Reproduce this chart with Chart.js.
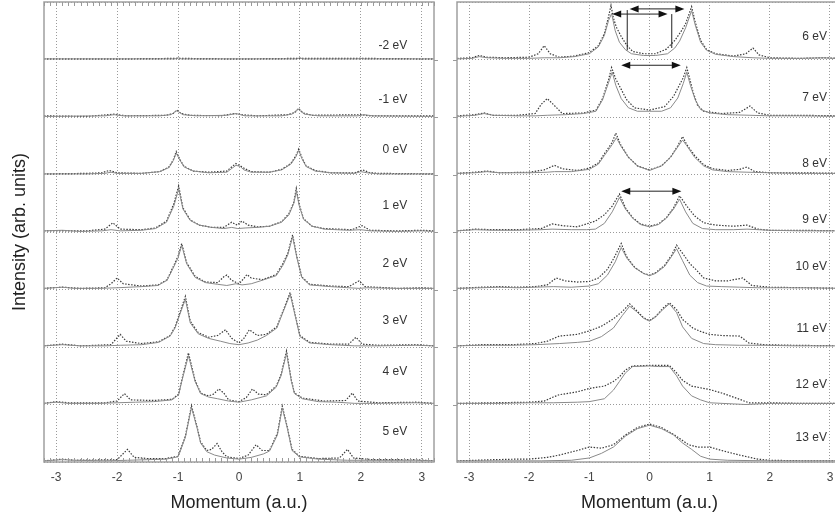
<!DOCTYPE html>
<html lang="en">
<head>
  <meta charset="UTF-8">
  <title>Momentum distributions</title>
  <script src="https://cdn.jsdelivr.net/npm/chart.js"></script>
  <style>
    body { margin: 0; width: 835px; height: 521px; overflow: hidden; background: #fff; position: relative; }
    .panel { position: absolute; top: 0; }
    #low { left: 0; }
    #high { left: 420px; }
  </style>
</head>
<body>
  <div class="panel" id="low"><canvas id="lowChart" width="440" height="521"></canvas></div>
  <div class="panel" id="high"><canvas id="highChart" width="430" height="521"></canvas></div>

  <script>
    // momentum (a.u.) vs intensity, one strip per binding energy
    // each curve: [momentum, intensity as fraction of strip height]

    // -2 eV
    const lineN2 = [[-3.2,0.01],[-1.05,0.01],[-1.0,0.03],[-0.95,0.01],[0.95,0.01],[1.0,0.03],[1.05,0.01],[1.95,0.01],[2.0,0.02],[2.05,0.01],[3.2,0.01]];
    const dotsN2 = [[-3.2,0.01],[-2.0,0.01],[-1.0,0.02],[0,0.01],[1.0,0.02],[2.0,0.02],[3.2,0.01]];
    // -1 eV
    const lineN1 = [[-3.2,0.01],[-2.2,0.02],[-2.05,0.04],[-1.9,0.02],[-1.3,0.02],[-1.12,0.04],[-1.02,0.11],[-0.92,0.04],[-0.7,0.02],[-0.2,0.03],[-0.05,0.06],[0.1,0.02],[0.7,0.02],[0.87,0.05],[0.97,0.14],[1.07,0.05],[1.3,0.02],[1.95,0.02],[2.05,0.04],[2.2,0.02],[3.2,0.01]];
    const dotsN1 = [[-3.2,0.02],[-2.5,0.01],[-2.05,0.05],[-1.85,0.02],[-1.2,0.03],[-1.08,0.06],[-1.02,0.12],[-0.95,0.06],[-0.8,0.03],[-0.3,0.02],[-0.08,0.06],[0.05,0.04],[0.3,0.02],[0.8,0.04],[0.92,0.08],[0.98,0.15],[1.05,0.07],[1.2,0.03],[2.0,0.04],[2.15,0.02],[3.2,0.02]];
    // 0 eV
    const line0 = [[-3.2,0.01],[-2.5,0.01],[-2.2,0.02],[-2.1,0.04],[-2.0,0.02],[-1.6,0.02],[-1.3,0.05],[-1.15,0.12],[-1.08,0.24],[-1.03,0.37],[-0.97,0.25],[-0.9,0.13],[-0.75,0.06],[-0.5,0.03],[-0.2,0.04],[-0.1,0.12],[-0.05,0.16],[0.02,0.14],[0.08,0.08],[0.2,0.04],[0.5,0.04],[0.7,0.08],[0.85,0.18],[0.93,0.3],[0.98,0.42],[1.03,0.28],[1.1,0.14],[1.25,0.06],[1.5,0.03],[1.9,0.02],[2.0,0.05],[2.1,0.03],[2.3,0.01],[3.2,0.01]];
    const dots0 = [[-3.2,0.01],[-2.5,0.02],[-2.25,0.03],[-2.13,0.07],[-2.0,0.03],[-1.6,0.02],[-1.3,0.05],[-1.15,0.13],[-1.08,0.25],[-1.03,0.4],[-0.97,0.26],[-0.9,0.14],[-0.75,0.06],[-0.5,0.04],[-0.2,0.06],[-0.1,0.15],[-0.05,0.19],[0.02,0.15],[0.1,0.1],[0.2,0.05],[0.5,0.04],[0.7,0.09],[0.85,0.19],[0.93,0.32],[0.98,0.44],[1.03,0.3],[1.1,0.15],[1.25,0.07],[1.5,0.03],[1.9,0.03],[2.03,0.08],[2.15,0.03],[2.3,0.02],[3.2,0.01]];
    // 1 eV
    const line1 = [[-3.2,0.02],[-2.9,0.03],[-2.6,0.01],[-2.25,0.02],[-2.1,0.04],[-1.95,0.02],[-1.6,0.03],[-1.37,0.06],[-1.19,0.17],[-1.07,0.45],[-0.99,0.75],[-0.92,0.4],[-0.8,0.2],[-0.65,0.12],[-0.45,0.08],[-0.25,0.06],[-0.12,0.08],[-0.02,0.06],[0.1,0.07],[0.3,0.08],[0.5,0.1],[0.7,0.17],[0.82,0.3],[0.9,0.5],[0.94,0.71],[0.99,0.45],[1.06,0.22],[1.2,0.1],[1.4,0.05],[1.8,0.03],[2.0,0.04],[2.15,0.02],[2.6,0.01],[3.0,0.02],[3.2,0.01]];
    const dots1 = [[-3.2,0.02],[-2.9,0.02],[-2.5,0.02],[-2.2,0.05],[-2.07,0.16],[-1.95,0.05],[-1.6,0.04],[-1.37,0.07],[-1.19,0.19],[-1.07,0.49],[-0.99,0.8],[-0.92,0.42],[-0.8,0.21],[-0.65,0.12],[-0.45,0.08],[-0.25,0.08],[-0.12,0.17],[-0.03,0.12],[0.05,0.19],[0.15,0.12],[0.3,0.09],[0.5,0.1],[0.7,0.18],[0.82,0.32],[0.9,0.52],[0.94,0.76],[0.99,0.47],[1.06,0.23],[1.2,0.1],[1.4,0.06],[1.85,0.04],[2.02,0.11],[2.15,0.03],[2.6,0.02],[3.0,0.03],[3.2,0.02]];
    // 2 eV
    const line2 = [[-3.2,0.02],[-2.9,0.04],[-2.7,0.02],[-2.3,0.02],[-2.0,0.03],[-1.6,0.05],[-1.33,0.07],[-1.18,0.16],[-1.1,0.33],[-1.0,0.55],[-0.94,0.77],[-0.86,0.45],[-0.72,0.21],[-0.55,0.12],[-0.35,0.09],[-0.2,0.07],[-0.05,0.1],[0.05,0.08],[0.2,0.1],[0.38,0.16],[0.61,0.24],[0.72,0.42],[0.8,0.6],[0.88,0.92],[0.95,0.55],[1.03,0.21],[1.16,0.08],[1.5,0.05],[1.8,0.03],[1.97,0.02],[2.1,0.03],[2.6,0.02],[3.0,0.02],[3.2,0.02]];
    const dots2 = [[-3.2,0.02],[-2.9,0.04],[-2.6,0.02],[-2.2,0.03],[-2.1,0.1],[-2.0,0.2],[-1.9,0.1],[-1.6,0.06],[-1.33,0.08],[-1.18,0.17],[-1.1,0.35],[-1.0,0.58],[-0.94,0.8],[-0.86,0.47],[-0.72,0.23],[-0.55,0.13],[-0.35,0.12],[-0.25,0.22],[-0.2,0.25],[-0.12,0.16],[0,0.1],[0.07,0.18],[0.13,0.26],[0.2,0.2],[0.38,0.17],[0.61,0.26],[0.72,0.45],[0.8,0.63],[0.88,0.95],[0.95,0.57],[1.03,0.22],[1.16,0.09],[1.5,0.06],[1.8,0.05],[1.97,0.15],[2.07,0.05],[2.6,0.02],[3.0,0.03],[3.2,0.02]];
    // 3 eV
    const line3 = [[-3.2,0.02],[-2.9,0.04],[-2.6,0.02],[-2.2,0.02],[-1.95,0.03],[-1.6,0.04],[-1.32,0.08],[-1.13,0.19],[-1.05,0.33],[-0.97,0.57],[-0.88,0.83],[-0.8,0.42],[-0.67,0.23],[-0.5,0.15],[-0.3,0.1],[-0.15,0.06],[0,0.04],[0.15,0.07],[0.3,0.12],[0.45,0.2],[0.62,0.33],[0.72,0.6],[0.84,0.92],[0.92,0.55],[1.0,0.18],[1.16,0.07],[1.5,0.04],[1.9,0.02],[2.3,0.02],[2.9,0.03],[3.2,0.02]];
    const dots3 = [[-3.2,0.02],[-2.9,0.05],[-2.6,0.02],[-2.1,0.04],[-1.95,0.22],[-1.85,0.1],[-1.6,0.06],[-1.32,0.09],[-1.13,0.2],[-1.05,0.35],[-0.97,0.6],[-0.88,0.88],[-0.8,0.45],[-0.67,0.25],[-0.5,0.17],[-0.35,0.2],[-0.22,0.3],[-0.12,0.15],[0,0.07],[0.08,0.15],[0.17,0.3],[0.3,0.2],[0.45,0.22],[0.62,0.35],[0.72,0.62],[0.84,0.95],[0.92,0.57],[1.0,0.2],[1.16,0.08],[1.5,0.05],[1.8,0.05],[1.92,0.17],[2.02,0.05],[2.3,0.03],[2.9,0.04],[3.2,0.02]];
    // 4 eV
    const line4 = [[-3.2,0.02],[-3.0,0.04],[-2.8,0.02],[-2.3,0.02],[-2.0,0.03],[-1.7,0.04],[-1.4,0.05],[-1.1,0.08],[-0.99,0.17],[-0.94,0.4],[-0.83,0.85],[-0.72,0.4],[-0.63,0.19],[-0.5,0.13],[-0.35,0.1],[-0.17,0.06],[0,0.04],[0.2,0.08],[0.45,0.15],[0.61,0.3],[0.69,0.5],[0.78,0.89],[0.86,0.4],[0.91,0.19],[1.04,0.1],[1.3,0.05],[1.6,0.04],[1.9,0.02],[2.2,0.02],[2.9,0.03],[3.2,0.02]];
    const dots4 = [[-3.2,0.02],[-3.0,0.05],[-2.8,0.03],[-2.2,0.03],[-2.0,0.06],[-1.88,0.19],[-1.78,0.08],[-1.4,0.07],[-1.1,0.09],[-0.99,0.18],[-0.94,0.42],[-0.83,0.9],[-0.72,0.42],[-0.63,0.2],[-0.5,0.15],[-0.42,0.18],[-0.33,0.27],[-0.25,0.2],[-0.17,0.08],[0,0.05],[0.12,0.12],[0.22,0.27],[0.32,0.18],[0.45,0.17],[0.61,0.32],[0.69,0.52],[0.78,0.93],[0.86,0.42],[0.91,0.2],[1.04,0.11],[1.4,0.06],[1.75,0.07],[1.86,0.2],[1.95,0.06],[2.3,0.03],[2.9,0.04],[3.2,0.02]];
    // 5 eV
    const line5 = [[-3.2,0.02],[-2.9,0.04],[-2.7,0.03],[-2.2,0.02],[-1.83,0.03],[-1.5,0.04],[-1.2,0.05],[-1.0,0.09],[-0.88,0.43],[-0.78,0.95],[-0.69,0.6],[-0.63,0.33],[-0.53,0.18],[-0.4,0.12],[-0.2,0.07],[0,0.05],[0.2,0.08],[0.4,0.14],[0.5,0.19],[0.63,0.47],[0.71,0.94],[0.79,0.6],[0.87,0.2],[0.99,0.09],[1.3,0.05],[1.78,0.03],[2.2,0.03],[2.9,0.03],[3.2,0.02]];
    const dots5 = [[-3.2,0.02],[-2.9,0.05],[-2.7,0.03],[-2.0,0.04],[-1.83,0.22],[-1.72,0.08],[-1.5,0.06],[-1.2,0.06],[-1.0,0.1],[-0.88,0.45],[-0.78,0.98],[-0.69,0.62],[-0.63,0.35],[-0.53,0.2],[-0.45,0.22],[-0.36,0.32],[-0.28,0.18],[-0.2,0.09],[0,0.06],[0.15,0.12],[0.28,0.3],[0.38,0.2],[0.5,0.2],[0.63,0.5],[0.71,0.97],[0.79,0.62],[0.87,0.22],[0.99,0.1],[1.3,0.06],[1.65,0.07],[1.78,0.22],[1.88,0.07],[2.2,0.04],[2.9,0.04],[3.2,0.02]];

    // 6 eV
    const line6 = [[-3.2,0.01],[-2.95,0.02],[-2.83,0.05],[-2.7,0.03],[-2.4,0.02],[-2.0,0.02],[-1.75,0.03],[-1.5,0.03],[-1.25,0.05],[-1.0,0.1],[-0.85,0.22],[-0.75,0.42],[-0.68,0.68],[-0.63,0.8],[-0.57,0.5],[-0.5,0.3],[-0.4,0.17],[-0.3,0.1],[-0.1,0.07],[0.1,0.07],[0.3,0.1],[0.42,0.2],[0.5,0.32],[0.6,0.55],[0.7,0.85],[0.76,0.6],[0.85,0.3],[0.95,0.16],[1.1,0.09],[1.4,0.05],[1.72,0.03],[2.0,0.02],[2.5,0.02],[2.9,0.03],[3.2,0.01]];
    const dots6 = [[-3.2,0.02],[-2.95,0.03],[-2.83,0.07],[-2.7,0.04],[-2.4,0.03],[-2.0,0.04],[-1.85,0.1],[-1.75,0.24],[-1.65,0.1],[-1.5,0.04],[-1.25,0.06],[-1.0,0.12],[-0.85,0.24],[-0.75,0.45],[-0.68,0.75],[-0.64,0.94],[-0.6,0.72],[-0.55,0.56],[-0.47,0.4],[-0.38,0.25],[-0.28,0.14],[-0.1,0.1],[0.1,0.1],[0.28,0.18],[0.42,0.33],[0.52,0.48],[0.6,0.62],[0.66,0.8],[0.7,0.92],[0.76,0.65],[0.85,0.33],[0.95,0.17],[1.1,0.1],[1.4,0.06],[1.6,0.1],[1.72,0.2],[1.82,0.08],[2.0,0.03],[2.5,0.02],[2.9,0.03],[3.2,0.02]];
    // 7 eV
    const line7 = [[-3.2,0.01],[-2.9,0.03],[-2.75,0.06],[-2.6,0.03],[-2.2,0.02],[-1.9,0.02],[-1.7,0.03],[-1.4,0.04],[-1.1,0.06],[-0.89,0.1],[-0.78,0.3],[-0.68,0.6],[-0.62,0.78],[-0.56,0.55],[-0.47,0.32],[-0.35,0.16],[-0.2,0.1],[0,0.1],[0.2,0.1],[0.35,0.16],[0.47,0.33],[0.56,0.58],[0.62,0.78],[0.68,0.55],[0.76,0.3],[0.85,0.13],[1.0,0.07],[1.3,0.04],[1.67,0.03],[2.0,0.02],[2.5,0.02],[3.2,0.01]];
    const dots7 = [[-3.2,0.02],[-2.9,0.04],[-2.75,0.07],[-2.6,0.03],[-2.2,0.03],[-1.9,0.06],[-1.8,0.22],[-1.7,0.32],[-1.6,0.22],[-1.45,0.06],[-1.1,0.07],[-0.89,0.12],[-0.78,0.32],[-0.68,0.65],[-0.63,0.86],[-0.56,0.66],[-0.47,0.48],[-0.38,0.3],[-0.25,0.16],[0,0.12],[0.25,0.18],[0.4,0.36],[0.48,0.52],[0.56,0.68],[0.62,0.86],[0.68,0.62],[0.72,0.45],[0.8,0.2],[0.9,0.1],[1.2,0.06],[1.5,0.08],[1.67,0.19],[1.8,0.07],[2.0,0.03],[2.5,0.03],[3.2,0.02]];
    // 8 eV
    const line8 = [[-3.2,0.02],[-2.9,0.03],[-2.7,0.05],[-2.5,0.03],[-2.0,0.03],[-1.7,0.04],[-1.58,0.05],[-1.3,0.05],[-1.0,0.09],[-0.85,0.18],[-0.75,0.33],[-0.62,0.52],[-0.55,0.64],[-0.48,0.5],[-0.35,0.3],[-0.2,0.15],[0,0.07],[0.2,0.15],[0.35,0.3],[0.47,0.48],[0.55,0.6],[0.62,0.5],[0.75,0.3],[0.9,0.15],[1.05,0.08],[1.3,0.05],[1.62,0.04],[2.0,0.03],[2.5,0.02],[3.2,0.02]];
    const dots8 = [[-3.2,0.02],[-2.9,0.04],[-2.7,0.06],[-2.5,0.03],[-2.0,0.04],[-1.75,0.08],[-1.58,0.16],[-1.45,0.1],[-1.2,0.07],[-1.0,0.11],[-0.85,0.2],[-0.75,0.36],[-0.62,0.56],[-0.56,0.72],[-0.48,0.52],[-0.35,0.3],[-0.2,0.15],[0,0.08],[0.2,0.15],[0.35,0.3],[0.47,0.5],[0.55,0.66],[0.62,0.52],[0.75,0.33],[0.9,0.17],[1.05,0.1],[1.3,0.07],[1.5,0.09],[1.62,0.13],[1.75,0.05],[2.0,0.03],[2.5,0.03],[3.2,0.02]];
    // 9 eV
    const line9 = [[-3.2,0.02],[-2.9,0.04],[-2.6,0.03],[-2.2,0.03],[-1.8,0.04],[-1.62,0.05],[-1.3,0.04],[-1.05,0.04],[-0.9,0.05],[-0.75,0.15],[-0.62,0.35],[-0.5,0.6],[-0.4,0.4],[-0.28,0.24],[-0.15,0.13],[0,0.09],[0.15,0.13],[0.28,0.24],[0.4,0.4],[0.5,0.57],[0.6,0.35],[0.72,0.15],[0.88,0.06],[1.1,0.04],[1.4,0.04],[1.62,0.05],[2.0,0.03],[2.5,0.02],[3.2,0.02]];
    const dots9 = [[-3.2,0.02],[-2.9,0.05],[-2.6,0.04],[-2.2,0.04],[-1.8,0.06],[-1.62,0.14],[-1.45,0.11],[-1.2,0.09],[-0.9,0.19],[-0.75,0.3],[-0.62,0.45],[-0.5,0.66],[-0.4,0.42],[-0.28,0.25],[-0.15,0.14],[0,0.1],[0.15,0.14],[0.28,0.25],[0.4,0.42],[0.5,0.63],[0.62,0.45],[0.75,0.28],[0.9,0.16],[1.1,0.12],[1.4,0.1],[1.62,0.12],[1.8,0.05],[2.0,0.03],[2.5,0.03],[3.2,0.02]];
    // 10 eV
    const line10 = [[-3.2,0.02],[-2.8,0.03],[-2.5,0.04],[-2.2,0.03],[-1.9,0.04],[-1.6,0.05],[-1.3,0.04],[-1.0,0.06],[-0.85,0.1],[-0.7,0.25],[-0.57,0.48],[-0.47,0.73],[-0.38,0.55],[-0.25,0.38],[-0.1,0.28],[0,0.24],[0.1,0.28],[0.25,0.4],[0.37,0.58],[0.45,0.71],[0.55,0.5],[0.67,0.25],[0.8,0.12],[0.95,0.06],[1.2,0.05],[1.5,0.04],[1.8,0.03],[2.2,0.03],[2.6,0.03],[3.2,0.02]];
    const dots10 = [[-3.2,0.02],[-2.8,0.04],[-2.5,0.05],[-2.2,0.04],[-1.9,0.05],[-1.7,0.08],[-1.55,0.2],[-1.4,0.15],[-1.2,0.13],[-1.0,0.14],[-0.85,0.2],[-0.7,0.35],[-0.6,0.53],[-0.47,0.8],[-0.38,0.57],[-0.25,0.39],[-0.1,0.28],[0,0.25],[0.1,0.29],[0.25,0.42],[0.37,0.6],[0.45,0.77],[0.57,0.6],[0.67,0.45],[0.77,0.35],[0.9,0.2],[1.1,0.15],[1.3,0.15],[1.45,0.18],[1.55,0.2],[1.7,0.07],[2.0,0.04],[2.6,0.03],[3.2,0.02]];
    // 11 eV
    const line11 = [[-3.2,0.02],[-2.8,0.03],[-2.3,0.03],[-1.9,0.04],[-1.5,0.06],[-1.2,0.08],[-1.0,0.1],[-0.8,0.18],[-0.6,0.33],[-0.45,0.55],[-0.33,0.71],[-0.22,0.62],[-0.1,0.5],[0,0.45],[0.1,0.52],[0.22,0.65],[0.33,0.75],[0.45,0.6],[0.55,0.35],[0.7,0.15],[0.9,0.06],[1.1,0.04],[1.5,0.03],[1.9,0.03],[2.4,0.02],[3.2,0.02]];
    const dots11 = [[-3.2,0.02],[-2.8,0.04],[-2.3,0.04],[-1.9,0.06],[-1.7,0.1],[-1.5,0.19],[-1.2,0.22],[-1.0,0.28],[-0.8,0.36],[-0.6,0.49],[-0.45,0.62],[-0.33,0.75],[-0.22,0.64],[-0.1,0.51],[0,0.46],[0.1,0.53],[0.22,0.67],[0.33,0.77],[0.45,0.65],[0.55,0.48],[0.72,0.33],[0.85,0.27],[1.0,0.22],[1.2,0.2],[1.5,0.19],[1.65,0.07],[1.9,0.04],[2.4,0.03],[3.2,0.02]];
    // 12 eV
    const line12 = [[-3.2,0.02],[-2.5,0.02],[-2.0,0.03],[-1.6,0.03],[-1.2,0.04],[-1.0,0.05],[-0.75,0.1],[-0.6,0.25],[-0.5,0.4],[-0.4,0.55],[-0.28,0.66],[0,0.67],[0.15,0.66],[0.33,0.66],[0.45,0.5],[0.55,0.32],[0.7,0.15],[0.85,0.08],[1.0,0.03],[1.4,0.01],[1.6,0.0],[2.0,0.02],[2.5,0.02],[3.2,0.02]];
    const dots12 = [[-3.2,0.02],[-2.6,0.03],[-2.0,0.04],[-1.75,0.06],[-1.6,0.13],[-1.5,0.17],[-1.2,0.22],[-1.0,0.28],[-0.75,0.32],[-0.6,0.4],[-0.5,0.48],[-0.4,0.6],[-0.28,0.67],[0,0.68],[0.33,0.68],[0.45,0.55],[0.55,0.42],[0.7,0.32],[1.0,0.26],[1.2,0.2],[1.5,0.09],[1.65,0.03],[2.0,0.03],[2.5,0.02],[3.2,0.02]];
    // 13 eV
    const line13 = [[-3.2,0.02],[-2.5,0.02],[-1.8,0.02],[-1.3,0.03],[-1.0,0.07],[-0.8,0.15],[-0.6,0.26],[-0.4,0.45],[-0.2,0.58],[0,0.64],[0.2,0.58],[0.4,0.47],[0.55,0.33],[0.7,0.22],[0.85,0.1],[1.0,0.05],[1.3,0.03],[2.0,0.02],[2.6,0.02],[3.2,0.02]];
    const dots13 = [[-3.2,0.02],[-2.6,0.04],[-2.2,0.05],[-2.0,0.05],[-1.7,0.08],[-1.5,0.12],[-1.2,0.2],[-1.0,0.26],[-0.8,0.24],[-0.6,0.3],[-0.4,0.47],[-0.2,0.6],[0,0.66],[0.2,0.6],[0.4,0.48],[0.5,0.41],[0.65,0.3],[0.8,0.26],[1.0,0.26],[1.2,0.2],[1.5,0.12],[1.8,0.05],[2.0,0.03],[2.6,0.02],[3.2,0.02]];

    const lowEnergies = ['-2 eV', '-1 eV', '0 eV', '1 eV', '2 eV', '3 eV', '4 eV', '5 eV'];
    const highEnergies = ['6 eV', '7 eV', '8 eV', '9 eV', '10 eV', '11 eV', '12 eV', '13 eV'];
    const lowLines = [lineN2, lineN1, line0, line1, line2, line3, line4, line5];
    const lowDots = [dotsN2, dotsN1, dots0, dots1, dots2, dots3, dots4, dots5];
    const highLines = [line6, line7, line8, line9, line10, line11, line12, line13];
    const highDots = [dots6, dots7, dots8, dots9, dots10, dots11, dots12, dots13];

    // double arrows: [strip, from, to, height]
    const highArrows = [[0, -0.33, 0.58, 0.88], [0, -0.62, 0.30, 0.79], [1, -0.47, 0.52, 0.90], [3, -0.47, 0.53, 0.71]];
    // drop lines under the 6 eV arrows: [strip, momentum, top, bottom]
    const highDrops = [[0, -0.37, 0.86, 0.16], [0, 0.37, 0.79, 0.2]];

    const FONT = '"Liberation Sans", Arial, Helvetica, sans-serif';
    const STRIPS = 8;

    // where each energy tag sits inside its strip
    const lowTagY = [0.24, 0.3, 0.43, 0.45, 0.45, 0.45, 0.57, 0.52];
    const highTagY = [0.4, 0.33, 0.19, 0.21, 0.4, 0.31, 0.35, 0.42];

    function stripData(points, strip) {
      const base = STRIPS - 1 - strip;
      return points.map(([m, v]) => ({ x: m, y: base + v }));
    }

    function buildDatasets(lines, dots) {
      const sets = [];
      lines.forEach((pts, i) => {
        sets.push({ data: stripData(pts, i), borderColor: '#8a8a8a', borderWidth: 1, pointRadius: 0, tension: 0 });
        sets.push({ data: stripData(dots[i], i), borderColor: '#3a3a3a', borderWidth: 1.2, borderDash: [1.5, 1.5], pointRadius: 0, tension: 0 });
      });
      return sets;
    }

    function arrowHead(ctx, px, py, dir) {
      ctx.beginPath();
      ctx.moveTo(px, py);
      ctx.lineTo(px - dir * 9, py - 3.5);
      ctx.lineTo(px - dir * 9, py + 3.5);
      ctx.closePath();
      ctx.fill();
    }

    // frame, minor ticks, energy tags and arrows
    const stripDecor = {
      id: 'stripDecor',
      afterDatasetsDraw(chart, args, opts) {
        const { ctx, chartArea: a, scales: { x, y } } = chart;
        ctx.save();
        ctx.setLineDash([]);

        ctx.strokeStyle = '#a0a0a0';
        ctx.lineWidth = 1.5;
        ctx.strokeRect(a.left, a.top, a.right - a.left, a.bottom - a.top);

        ctx.lineWidth = 1;
        ctx.strokeStyle = '#9a9a9a';
        if (opts.minorTicks) {
          for (let i = -32; i <= 32; i++) {
            const px = Math.round(x.getPixelForValue(i / 10)) + 0.5;
            ctx.beginPath();
            ctx.moveTo(px, a.top); ctx.lineTo(px, a.top + 4);
            ctx.moveTo(px, a.bottom); ctx.lineTo(px, a.bottom - 4);
            ctx.stroke();
          }
        }
        for (let k = 1; k < STRIPS; k++) {
          const py = Math.round(y.getPixelForValue(k)) + 0.5;
          ctx.beginPath();
          if (opts.sideTicks === 'right') { ctx.moveTo(a.right, py); ctx.lineTo(a.right + 4, py); }
          else { ctx.moveTo(a.left, py); ctx.lineTo(a.left - 4, py); }
          ctx.stroke();
        }

        ctx.font = '12px ' + FONT;
        ctx.fillStyle = '#333';
        ctx.textAlign = 'right';
        ctx.textBaseline = 'middle';
        opts.tags.forEach((t, i) => {
          const base = STRIPS - 1 - i;
          ctx.fillText(t, x.getPixelForValue(opts.tagX), y.getPixelForValue(base + opts.tagY[i]));
        });

        ctx.strokeStyle = '#222';
        ctx.fillStyle = '#111';
        ctx.lineWidth = 1;
        (opts.arrows || []).forEach(([s, m1, m2, h]) => {
          const py = y.getPixelForValue(STRIPS - 1 - s + h);
          const p1 = x.getPixelForValue(m1), p2 = x.getPixelForValue(m2);
          ctx.beginPath(); ctx.moveTo(p1 + 4, py); ctx.lineTo(p2 - 4, py); ctx.stroke();
          arrowHead(ctx, p1, py, -1);
          arrowHead(ctx, p2, py, 1);
        });
        (opts.drops || []).forEach(([s, m, h1, h2]) => {
          const px = x.getPixelForValue(m);
          const base = STRIPS - 1 - s;
          ctx.beginPath();
          ctx.moveTo(px, y.getPixelForValue(base + h1));
          ctx.lineTo(px, y.getPixelForValue(base + h2));
          ctx.stroke();
        });
        ctx.restore();
      }
    };

    function makeChart(canvasId, lines, dots, cfg) {
      return new Chart(document.getElementById(canvasId), {
        type: 'line',
        data: { datasets: buildDatasets(lines, dots) },
        options: {
          responsive: false,
          animation: false,
          events: [],
          layout: { padding: { top: 2, right: cfg.padRight, left: 0, bottom: 0 } },
          scales: {
            x: {
              type: 'linear',
              min: -3.2,
              max: 3.2,
              afterFit: (s) => { s.height = 59; },
              ticks: { stepSize: 1, includeBounds: false, padding: 8, color: '#444', font: { family: FONT, size: 12 } },
              grid: { color: '#9a9a9a', lineWidth: 1, drawTicks: false },
              border: { display: false, dash: [1, 2] },
              title: { display: true, text: 'Momentum (a.u.)', color: '#222', font: { family: FONT, size: 18 }, padding: { top: 0, bottom: 7 } }
            },
            y: {
              min: 0,
              max: STRIPS,
              afterFit: (s) => { s.width = cfg.yWidth; },
              ticks: { display: false, stepSize: 1 },
              grid: { color: '#9a9a9a', lineWidth: 1, drawTicks: false },
              border: { display: false, dash: [1, 2] },
              title: { display: cfg.yTitle, text: 'Intensity (arb. units)', color: '#222', font: { family: FONT, size: 18 }, padding: { top: 9, bottom: 0 } }
            }
          },
          plugins: {
            legend: { display: false },
            tooltip: { enabled: false },
            stripDecor: cfg.decor
          }
        },
        plugins: [stripDecor]
      });
    }

    makeChart('lowChart', lowLines, lowDots, {
      padRight: 6, yWidth: 44, yTitle: true,
      decor: { tags: lowEnergies, tagY: lowTagY, tagX: 2.76, minorTicks: true, sideTicks: 'right' }
    });

    makeChart('highChart', highLines, highDots, {
      padRight: 8, yWidth: 37, yTitle: false,
      decor: { tags: highEnergies, tagY: highTagY, tagX: 2.95, minorTicks: false, sideTicks: 'left', arrows: highArrows, drops: highDrops }
    });
  </script>
</body>
</html>
